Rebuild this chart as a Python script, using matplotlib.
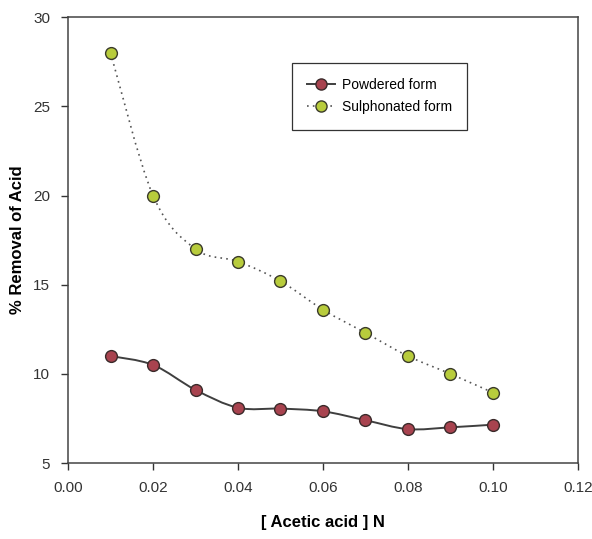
import matplotlib

matplotlib.use("Agg")
import matplotlib.pyplot as plt
import numpy as np
from matplotlib.path import Path
from matplotlib.patches import PathPatch

conc = [0.01, 0.02, 0.03, 0.04, 0.05, 0.06, 0.07, 0.08, 0.09, 0.10]
powdered = [11.0, 10.5, 9.1, 8.1, 8.05, 7.9, 7.4, 6.9, 7.0, 7.15]
sulphonated = [28.0, 20.0, 17.0, 16.3, 15.2, 13.6, 12.3, 11.0, 10.0, 8.95]

plt.rcParams["font.family"] = ["Liberation Sans", "DejaVu Sans"]


def smooth_path(xs, ys, t=1 / 6):
    # Catmull-Rom style bezier through the points (like SigmaPlot spline)
    xs = np.asarray(xs, float)
    ys = np.asarray(ys, float)
    verts = [(xs[0], ys[0])]
    codes = [Path.MOVETO]
    n = len(xs)
    for i in range(n - 1):
        p0 = (xs[max(i - 1, 0)], ys[max(i - 1, 0)])
        p1 = (xs[i], ys[i])
        p2 = (xs[i + 1], ys[i + 1])
        p3 = (xs[min(i + 2, n - 1)], ys[min(i + 2, n - 1)])
        c1 = (p1[0] + (p2[0] - p0[0]) * t, p1[1] + (p2[1] - p0[1]) * t)
        c2 = (p2[0] - (p3[0] - p1[0]) * t, p2[1] - (p3[1] - p1[1]) * t)
        verts += [c1, c2, p2]
        codes += [Path.CURVE4] * 3
    return Path(verts, codes)


fig = plt.figure(figsize=(5.92, 5.39), dpi=100)
ax = fig.add_axes([0.115, 0.141, 0.861, 0.827])

ax.add_patch(PathPatch(smooth_path(conc, powdered), fill=False, color="#3f3f3f", lw=1.4, zorder=2))
ax.add_patch(PathPatch(smooth_path(conc, sulphonated), fill=False, color="#555555", lw=1.2,
                       linestyle=(0, (1, 2.5)), zorder=2))

ax.plot(conc, powdered, "o", ms=8.5, mfc="#a8434f", mec="#3a2a2a", mew=1.0, zorder=3)
ax.plot(conc, sulphonated, "o", ms=8.5, mfc="#b8cc3c", mec="#3a3a2a", mew=1.0, zorder=3)

# legend handles
h1, = ax.plot([], [], "-o", color="#3f3f3f", lw=1.4, ms=8, mfc="#a8434f", mec="#3a2a2a")
h2, = ax.plot([], [], "o", linestyle=(0, (1, 2.5)), color="#555555", lw=1.2, ms=8,
              mfc="#b8cc3c", mec="#3a3a2a")
leg = ax.legend([h1, h2], ["Powdered form", "Sulphonated form"], loc="upper left",
                bbox_to_anchor=(0.439, 0.898), borderaxespad=0, fancybox=False, framealpha=1,
                edgecolor="#333333", fontsize=10, handlelength=2.0, handletextpad=0.5,
                borderpad=1.1, labelspacing=0.6)
leg.get_frame().set_linewidth(0.9)

ax.set_xlim(0, 0.12)
ax.set_ylim(5, 30)
ax.set_xticks(np.arange(0, 0.121, 0.02))
ax.set_xticklabels([f"{v:.2f}" for v in np.arange(0, 0.121, 0.02)])
ax.set_yticks([5, 10, 15, 20, 25, 30])
ax.tick_params(direction="out", length=5, width=1, labelsize=11, colors="#333333", pad=8)
for s in ax.spines.values():
    s.set_color("#444444")
    s.set_linewidth(1.1)

ax.set_xlabel("[ Acetic acid ] N", fontsize=12, fontweight="bold", labelpad=14)
ax.set_ylabel("% Removal of Acid", fontsize=12, fontweight="bold", labelpad=6)

fig.savefig("out.png", dpi=100)
